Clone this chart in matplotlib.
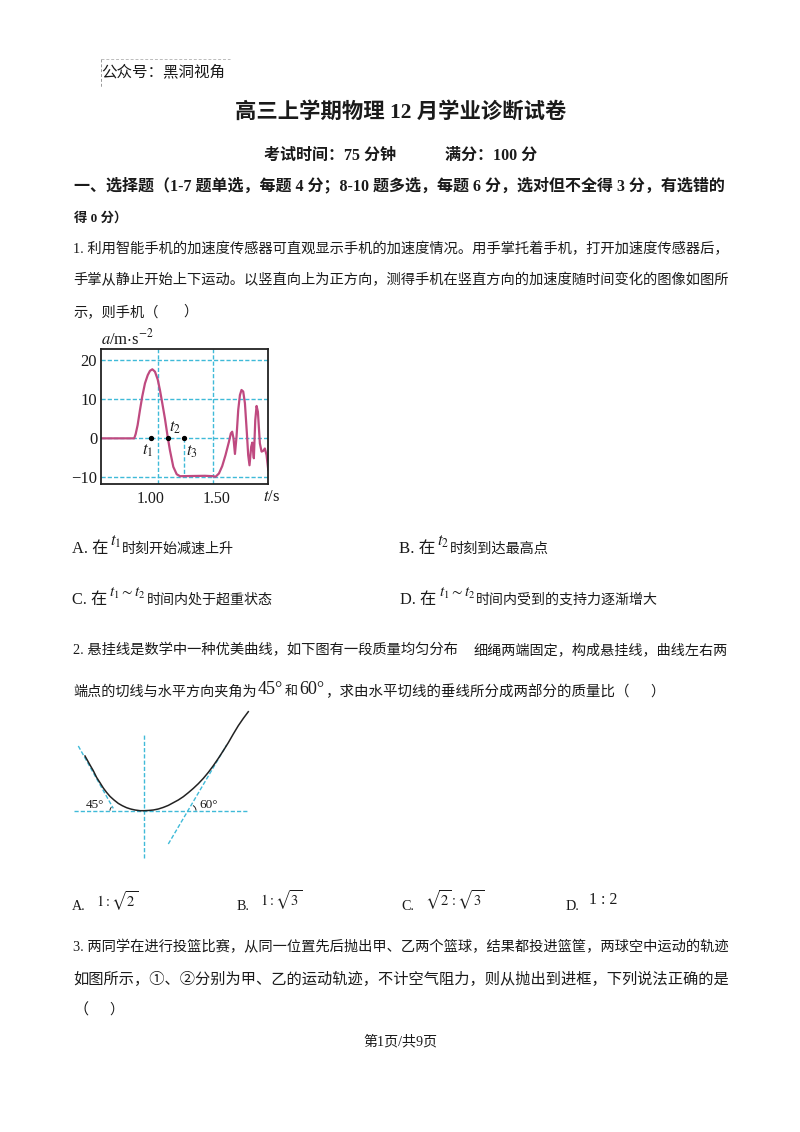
""" Exam paper page: physics questions with an a-t chart and a hanging cable sketch """
import matplotlib
matplotlib.use("Agg")
import matplotlib.pyplot as plt
from matplotlib.patches import Arc

plt.rcParams["font.family"] = ["Liberation Serif", "Noto Sans CJK SC", "DejaVu Sans"]
plt.rcParams["mathtext.fontset"] = "stix"

W, H = 800, 1132
TEXT = "#1a1a1a"
CYAN = "#3FBAD8"
PINK = "#BF4A80"
DASH = (0, (3, 1.5))

# acceleration chart
time_s = [0.622, 0.873, 0.884, 0.899, 0.917, 0.934, 0.955, 0.976, 0.993, 1.011, 1.031, 1.052, 1.069,
          1.087, 1.107, 1.128, 1.145, 1.171, 1.197, 1.222, 1.412, 1.476, 1.493, 1.519, 1.544, 1.569,
          1.595, 1.610, 1.620, 1.630, 1.641, 1.653, 1.666, 1.679, 1.691, 1.704, 1.717, 1.732, 1.742,
          1.752, 1.765, 1.773, 1.785, 1.796, 1.806, 1.816, 1.831, 1.844, 1.857, 1.869, 1.882, 1.895]
accel = [0, 0, 1.1, 3.4, 7.3, 10.7, 14.1, 16.2, 17.3, 17.7, 17.1, 15.1, 12.4,
         9, 5.1, 0.4, -3, -7.3, -9.2, -9.7, -9.6, -9.7, -9.85, -9, -7.1, -4.3,
         -0.9, 1.3, 1.7, 0, -4, 0.4, 7.3, 11.1, 12.4, 12, 9, 1.3, -4.3,
         -6.9, -2.15, -1.1, -5.1, 4.7, 8.3, 6.8, -1.3, -3.4, -3.2, -2.6, -4.3, -8.1]
y_ticks = [20, 10, 0, -10]
y_tick_labels = ["20", "10", "0", "\u221210"]
x_ticks = [1.00, 1.50]
x_tick_labels = ["1.00", "1.50"]
grid_x = [1.052, 1.471]
marked_t = [1.0, 1.129, 1.251]

# hanging cable sketch
cable_x = [-59.3, -54.3, -51, -47.7, -44.3, -41, -37.7, -34.3, -30.3, -26, -22, -17.7, -13.7, -9.3, -4.3, 0, 5, 9, 14,
           19, 24, 29, 34, 39, 44, 49, 54, 59, 64, 69, 74, 79, 84, 89, 94, 99, 104]
cable_y = [54.7, 45.7, 40, 33.3, 28, 22.7, 18.3, 14.3, 10.7, 7.3, 5, 3, 1.7, 0.7, 0, 0, 0.3, 0.7, 1.7,
           3.3, 5.3, 8, 10.7, 14, 18, 22.3, 27, 32.3, 38.3, 45, 52.3, 60, 68, 76.7, 85, 92.3, 99]
tangent_left_x = [-66, -31]
tangent_left_y = [64.7, 2.3]
tangent_right_x = [24, 82.3]
tangent_right_y = [-33.3, 65.7]


fig = plt.figure(figsize=(W / 100, H / 100), dpi=100, facecolor="white")
page = fig.add_axes([0, 0, 1, 1])
page.set_xlim(0, W)
page.set_ylim(H, 0)
page.axis("off")


def put(x, y, s, size=10.2, weight="normal", right=None, **kw):
    # right: squeeze or stretch the font so the line ends at this pixel
    t = page.text(x, y + 1, s, fontsize=size, fontweight=weight, color=TEXT, va="center", **kw)
    if right is not None:
        width = t.get_window_extent(fig.canvas.get_renderer()).width
        t.set_fontsize(size * (right - x) / width)
    return t


def px_axes(left, top, right, bottom):
    return fig.add_axes([left / W, 1 - bottom / H, (right - left) / W, (bottom - top) / H])


# header
put(101, 71, "公众号：黑洞视角", size=11.2, right=225)
page.plot([101, 230], [59, 59], color="#bbbbbb", lw=0.7, ls=(0, (3, 2)))
page.plot([101, 101], [59, 87], color="#999999", lw=0.7, ls=(0, (3, 2)))
put(235, 111, "高三上学期物理 12 月学业诊断试卷", size=14.5, weight="bold", right=566)
put(264, 155, "考试时间：75 分钟", weight="bold", right=396)
put(445, 155, "满分：100 分", weight="bold", right=537)

# section heading
put(74, 185, "一、选择题（1-7 题单选，每题 4 分；8-10 题多选，每题 6 分，选对但不全得 3 分，有选错的",
    weight="bold", right=723)
put(74, 217, "得 0 分）", weight="bold", right=127)

# question 1
put(73, 248, "1. 利用智能手机的加速度传感器可直观显示手机的加速度情况。用手掌托着手机，打开加速度传感器后，", right=727)
put(73, 279, "手掌从静止开始上下运动。以竖直向上为正方向，测得手机在竖直方向的加速度随时间变化的图像如图所", right=727)
put(73, 311, "示，则手机（", right=158)
put(183, 311, "）")

ax = px_axes(101.3, 349, 268, 484)
ax.set_xlim(0.622, 1.893)
ax.set_ylim(-11.7, 22.9)
for y in y_ticks:
    ax.axhline(y, color=CYAN, lw=1, ls=DASH, zorder=1)
for x in grid_x:
    ax.axvline(x, color=CYAN, lw=1, ls=DASH, zorder=1)
ax.plot([marked_t[2], marked_t[2]], [0, -9.5], color=CYAN, lw=1, ls=DASH, zorder=1)
ax.plot(time_s, accel, color=PINK, lw=1.6, zorder=2, solid_joinstyle="round")
ax.plot(marked_t, [0, 0, 0], "o", color="black", ms=2.8, zorder=3)
ax.set_xticks(x_ticks, x_tick_labels, fontsize=11.5, color=TEXT)
ax.set_yticks(y_ticks, y_tick_labels, fontsize=12, color=TEXT)
ax.tick_params(axis="x", length=0, pad=5)
ax.tick_params(axis="y", length=0, pad=3)
for spine in ax.spines.values():
    spine.set_linewidth(1.3)
    spine.set_color("#222222")
ax.text(0.973, -3.2, "$t_1$", fontsize=12, ha="center", va="center", color=TEXT)
ax.text(1.184, 2.6, "$t_2$", fontsize=12, ha="center", va="center", color=TEXT)
ax.text(1.31, -3.4, "$t_3$", fontsize=12, ha="center", va="center", color=TEXT)
put(101, 337, r"$a$/m$\cdot$s$^{-2}$", size=12)
put(263, 496, r"$t$/s", size=12)

put(72, 548, "A. 在", right=108)
put(110, 541, "$t_1$", size=12)
put(122, 548, "时刻开始减速上升", right=234)
put(399, 548, "B. 在", right=435)
put(437, 541, "$t_2$", size=12)
put(450, 548, "时刻到达最高点", right=549)
put(72, 599, "C. 在", right=107)
put(109, 592, r"$t_1 \sim t_2$", size=11)
put(147, 599, "时间内处于超重状态", right=273)
put(400, 599, "D. 在", right=436)
put(439, 592, r"$t_1 \sim t_2$", size=11)
put(476, 599, "时间内受到的支持力逐渐增大", right=657)

# question 2
put(73, 649, "2. 悬挂线是数学中一种优美曲线，如下图有一段质量均匀分布", right=458)
put(474, 649, "细绳两端固定，构成悬挂线，曲线左右两", right=727)
put(73, 691, "端点的切线与水平方向夹角为", right=256)
put(258, 689, "45°", size=13)
put(285, 691, "和", right=298)
put(299, 689, "60°", size=13)
put(325, 691, "，求由水平切线的垂线所分成两部分的质量比（", right=628)
put(650, 691, "）")

sketch = px_axes(69.3, 705.7, 254.3, 862.7)
sketch.set_xlim(-75, 110)
sketch.set_ylim(-52, 105)
sketch.axis("off")
sketch.plot([-70.3, 104], [0, 0], color=CYAN, lw=1, ls=DASH)
sketch.plot([0, 0], [-47.7, 77.3], color=CYAN, lw=1, ls=DASH)
sketch.plot(tangent_left_x, tangent_left_y, color=CYAN, lw=1, ls=DASH)
sketch.plot(tangent_right_x, tangent_right_y, color=CYAN, lw=1, ls=DASH)
sketch.plot(cable_x, cable_y, color="#222222", lw=1.1)
sketch.add_patch(Arc((-29.3, 0), 10, 10, theta1=135, theta2=180, color="#222222", lw=0.7))
sketch.add_patch(Arc((45.7, 0), 12, 12, theta1=0, theta2=60, color="#222222", lw=0.7))
put(86, 804, "45°", size=9.5)
put(199, 804, "60°", size=9.5)

put(72, 906, "A.")
put(96, 900, r"$1:\sqrt{2}$", size=10.5)
put(237, 906, "B.")
put(260, 899, r"$1:\sqrt{3}$", size=10.5)
put(401, 906, "C.")
put(425, 899, r"$\sqrt{2}:\sqrt{3}$", size=10.5)
put(566, 906, "D.")
put(589, 899, "1 : 2", size=11.5)

# question 3
put(73, 946, "3. 两同学在进行投篮比赛，从同一位置先后抛出甲、乙两个篮球，结果都投进篮筐，两球空中运动的轨迹", right=727)
put(73, 978, "如图所示，①、②分别为甲、乙的运动轨迹，不计空气阻力，则从抛出到进框，下列说法正确的是", right=727)
put(73, 1009, "（", right=88)
put(109, 1009, "）")

put(363, 1041, "第1页/共9页", right=437)

fig.savefig("out.png", dpi=100)
